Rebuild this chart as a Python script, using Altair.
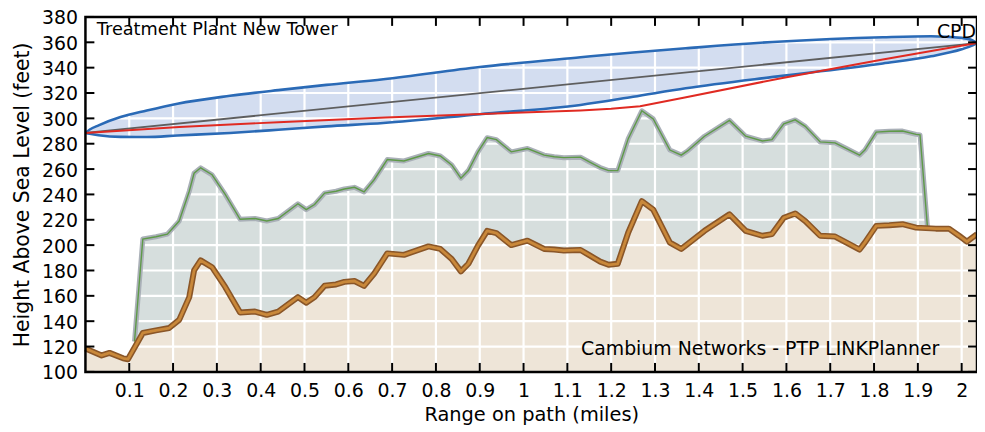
import altair as alt
import pandas as pd

# ---------------- data ----------------
terrain_x = [0, 0.037, 0.055, 0.086, 0.097, 0.131, 0.161, 0.191, 0.214, 0.237, 0.248, 0.263,
             0.289, 0.319, 0.353, 0.387, 0.414, 0.44, 0.485, 0.504, 0.523, 0.546, 0.572, 0.591,
             0.614, 0.636, 0.659, 0.689, 0.727, 0.783, 0.81, 0.836, 0.857, 0.874, 0.896, 0.917,
             0.938, 0.972, 1.009, 1.047, 1.07, 1.092, 1.13, 1.149, 1.175, 1.194, 1.215, 1.239,
             1.27, 1.296, 1.334, 1.36, 1.375, 1.413, 1.47, 1.507, 1.545, 1.567, 1.594, 1.62,
             1.643, 1.677, 1.711, 1.737, 1.767, 1.779, 1.805, 1.835, 1.865, 1.896, 1.941, 1.971,
             1.994, 2.012, 2.035]
terrain_h = [118.5, 113, 115, 110.7, 110, 130.7, 132.8, 134.6, 141, 159, 180, 188,
             182.6, 167, 146.8, 147.6, 145, 147.6, 159, 154.6, 159, 168, 169, 171,
             171.7, 167.8, 177.5, 193.5, 192.3, 199, 197, 189, 179.3, 185.3, 199.6, 211.3,
             209.5, 200, 203.5, 197, 196.5, 195.7, 196.2, 192.3, 187, 184.5, 185.3, 210,
             234.7, 228, 202, 197, 201, 211.3, 224.3, 211.3, 207.4, 208.7, 221.6, 225,
             219, 207.4, 206.8, 202, 196.5, 202, 215.2, 215.7, 216.5, 213.8, 213, 213,
             207.4, 202.7, 208.7]

obst_x = [0.112, 0.131, 0.161, 0.187, 0.214, 0.237, 0.248, 0.263, 0.289, 0.319, 0.353, 0.387,
          0.414, 0.44, 0.485, 0.504, 0.523, 0.546, 0.572, 0.591, 0.614, 0.636, 0.659, 0.689,
          0.727, 0.783, 0.81, 0.836, 0.857, 0.874, 0.896, 0.917, 0.938, 0.972, 1.009, 1.047,
          1.07, 1.092, 1.13, 1.149, 1.175, 1.194, 1.215, 1.239, 1.27, 1.296, 1.334, 1.36,
          1.375, 1.413, 1.47, 1.507, 1.545, 1.567, 1.594, 1.62, 1.643, 1.677, 1.711, 1.737,
          1.767, 1.779, 1.805, 1.835, 1.865, 1.896, 1.905, 1.922]
obst_h = [124, 204.8, 206.6, 208.7, 219, 242.5, 256.7, 261, 255.5, 240, 220.4, 221,
          219, 221, 232.6, 228, 232, 241, 242.5, 244.3, 245.6, 242, 251.6, 267.5,
          266.4, 272.3, 270.3, 263.3, 252.8, 258.8, 273.6, 284.8, 283.2, 273.6, 276.2, 271,
          269.7, 269, 269.4, 265.8, 261.2, 258.8, 258.8, 284, 306, 299.6, 275, 271,
          274.5, 285.9, 298.4, 285.9, 282.2, 283.2, 295.7, 298.8, 293.7, 281.4, 280.7, 276.2,
          271, 275, 289.2, 289.8, 290, 287.4, 287, 214]

fresnel_x = [0, 0.01, 0.03, 0.08, 0.14, 0.21, 0.33, 0.44, 0.55, 0.68, 0.90, 1.13, 1.25, 1.37,
             1.59, 1.82, 1.93, 2.00, 2.025, 2.035]
fresnel_upper = [288.5, 291.2, 294.5, 301, 306.2, 311.6, 317.8, 322.3, 326.4, 330.9, 340.5, 348.2,
                 352, 355.3, 360.7, 364, 364.8, 363.5, 361.5, 359.4]
fresnel_lower = [288.5, 287.8, 286.7, 285.4, 285.3, 286.5, 288.5, 291, 293.7, 296.3, 303.3, 310.6,
                 317, 323.7, 333.5, 343.3, 349, 354.5, 357.6, 359.4]

los_x = [0, 2.035]
los_h = [288.5, 359.4]

red_x = [0, 0.214, 0.44, 0.685, 0.904, 1.13, 1.2, 1.266, 1.368, 1.594, 1.82, 2.035]
red_h = [288.5, 293.1, 297, 300.6, 303.5, 306.2, 307.5, 309.5, 316.5, 332.1, 346.5, 359.4]

x_ticks = [round(0.1 * i, 1) for i in range(1, 21)]
y_ticks = list(range(100, 381, 20))

# ---------------- layout ----------------
W, H = 898, 357.5
FONT = "DejaVu Sans"
xs = alt.Scale(domain=[0, 2.035], nice=False, zero=False)
ys = alt.Scale(domain=[100, 380], nice=False, zero=False)

xaxis = alt.Axis(title="Range on path (miles)", values=x_ticks, format=".1~f", ticks=False,
                 tickSize=0, domain=False, grid=False, labelFontSize=19, labelPadding=10,
                 titleFontSize=19.5, titlePadding=5, labelColor="black", titleColor="black",
                 titleFontWeight="normal", labelFlush=False, labelOverlap=False,
                 labelFont=FONT, titleFont=FONT)
yaxis = alt.Axis(title="Height Above Sea Level (feet)", values=y_ticks, format="d", ticks=False,
                 tickSize=0, domain=False, grid=False, labelFontSize=19, labelPadding=8,
                 labelOffset=1,
                 titleFontSize=20.5, titlePadding=9, labelColor="black", titleColor="black",
                 titleFontWeight="normal", labelFlush=False, labelOverlap=False,
                 labelFont=FONT, titleFont=FONT)


def X(f):
    return alt.X(f, type="quantitative", scale=xs, axis=xaxis)


def Y(f):
    return alt.Y(f, type="quantitative", scale=ys, axis=yaxis)


terrain = pd.DataFrame({"x": terrain_x, "h": terrain_h})
obst = pd.DataFrame({"x": obst_x, "h": obst_h})
fres = pd.DataFrame({"x": fresnel_x, "up": fresnel_upper, "lo": fresnel_lower})
los = pd.DataFrame({"x": los_x, "h": los_h})
red = pd.DataFrame({"x": red_x, "h": red_h})
xt = pd.DataFrame({"x": x_ticks})
yt = pd.DataFrame({"h": y_ticks})
yt_inner = pd.DataFrame({"h": y_ticks[1:-1]})
one = pd.DataFrame({"k": [0]})

layers = []
# fills
layers.append(alt.Chart(fres).mark_area(color="#d3ddf0", interpolate="monotone").encode(
    x=X("x"), y=Y("up"), y2="lo"))
layers.append(alt.Chart(obst).mark_area(color="#d6dedd").encode(
    x=X("x"), y=Y("h"), y2=alt.datum(100)))
layers.append(alt.Chart(terrain).mark_area(color="#eee5d8").encode(
    x=X("x"), y=Y("h"), y2=alt.datum(100)))
# white grid
layers.append(alt.Chart(xt).mark_rule(color="white", strokeWidth=2.2).encode(
    x=X("x"), y=alt.value(2), y2=alt.value(H - 2)))
layers.append(alt.Chart(yt_inner).mark_rule(color="white", strokeWidth=2.2).encode(
    y=Y("h"), x=alt.value(2), x2=alt.value(W - 2)))
# obstruction outline
layers.append(alt.Chart(obst).mark_line(color="#aab0b8", strokeWidth=5, strokeJoin="round").encode(
    x=X("x"), y=Y("h")))
layers.append(alt.Chart(obst).mark_line(color="#5e9a48", strokeWidth=1.4).encode(
    x=X("x"), y=Y("h")))
# terrain line
layers.append(alt.Chart(terrain).mark_line(color="#8a5628", strokeWidth=6, strokeJoin="round").encode(
    x=X("x"), y=Y("h")))
layers.append(alt.Chart(terrain).mark_line(color="#c9883a", strokeWidth=2.8, strokeJoin="round").encode(
    x=X("x"), y=Y("h")))
# fresnel boundaries
layers.append(alt.Chart(fres).mark_line(color="#2a6ab6", strokeWidth=2.6, interpolate="monotone").encode(
    x=X("x"), y=Y("up")))
layers.append(alt.Chart(fres).mark_line(color="#2a6ab6", strokeWidth=2.6, interpolate="monotone").encode(
    x=X("x"), y=Y("lo")))
# line of sight
layers.append(alt.Chart(los).mark_line(color="#5e5e5e", strokeWidth=1.8).encode(
    x=X("x"), y=Y("h")))
# red path
layers.append(alt.Chart(red).mark_line(color="#e02a22", strokeWidth=2).encode(
    x=X("x"), y=Y("h")))
# inward ticks
TL = 9
layers.append(alt.Chart(xt).mark_rule(color="black", strokeWidth=2).encode(
    x=X("x"), y=alt.value(H), y2=alt.value(H - TL)))
layers.append(alt.Chart(xt).mark_rule(color="black", strokeWidth=2).encode(
    x=X("x"), y=alt.value(0), y2=alt.value(TL)))
layers.append(alt.Chart(yt).mark_rule(color="black", strokeWidth=2).encode(
    y=Y("h"), x=alt.value(0), x2=alt.value(TL)))
layers.append(alt.Chart(yt).mark_rule(color="black", strokeWidth=2).encode(
    y=Y("h"), x=alt.value(W), x2=alt.value(W - TL)))
# frame
layers.append(alt.Chart(one).mark_rect(fill=None, stroke="black", strokeWidth=2.5).encode(
    x=alt.value(0), x2=alt.value(W), y=alt.value(0), y2=alt.value(H)))

# annotations
ann_left = pd.DataFrame({"t": ["Treatment Plant New Tower"], "x": [0], "h": [380]})
ann_cpd = pd.DataFrame({"t": ["CPD"], "x": [2.035], "h": [380]})
ann_brand = pd.DataFrame({"t": ["Cambium Networks - PTP LINKPlanner"], "x": [2.035], "h": [100]})
layers.append(alt.Chart(ann_left).mark_text(align="left", baseline="middle", dx=11.5, dy=13,
                                            fontSize=17.8, font=FONT, color="black").encode(
    x=X("x"), y=Y("h"), text="t"))
layers.append(alt.Chart(ann_cpd).mark_text(align="right", baseline="middle", dx=-1, dy=15,
                                           fontSize=19, font=FONT, color="black").encode(
    x=X("x"), y=Y("h"), text="t"))
layers.append(alt.Chart(ann_brand).mark_text(align="right", baseline="middle", dx=-38, dy=-23,
                                             fontSize=19, font=FONT, color="black").encode(
    x=X("x"), y=Y("h"), text="t"))

chart = alt.layer(*layers).properties(
    width=W, height=H,
    autosize=alt.AutoSizeParams(type="none"),
    padding={"left": 78, "top": 7.5, "right": 0, "bottom": 56},
    background="white",
).configure(font=FONT).configure_view(stroke=None)

chart.save("out.html", embed_options={"renderer": "svg", "actions": False})
